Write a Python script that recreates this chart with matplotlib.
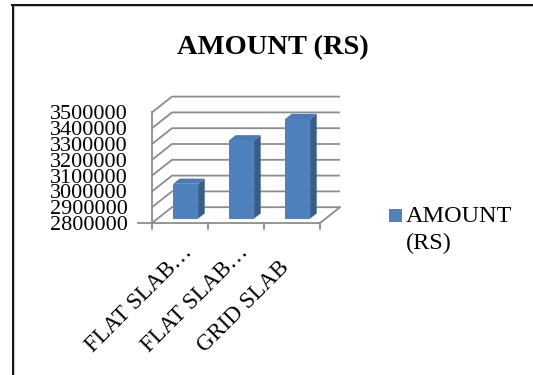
import matplotlib
matplotlib.use("Agg")
import matplotlib.pyplot as plt
import matplotlib.transforms as mtransforms
from matplotlib.patches import Polygon, Rectangle
from matplotlib.lines import Line2D

# ---- data ----
categories = ["FLAT SLAB…", "FLAT SLAB…", "GRID SLAB"]
amounts = [3020000, 3295000, 3430000]
y_ticks = [2800000, 2900000, 3000000, 3100000, 3200000, 3300000, 3400000, 3500000]
series_name = "AMOUNT (RS)"
title = "AMOUNT (RS)"

plt.rcParams['font.family'] = ['Liberation Serif', 'DejaVu Serif']

W, H = 533, 375
fig = plt.figure(figsize=(W / 100, H / 100), dpi=100)
fig.patch.set_facecolor("white")

# axes placed in pixel geometry
x0_px, y0_px = 152, 223
px_per_cat = 56
px_per_step = 15.8
ymin = y_ticks[0]
step = y_ticks[1] - y_ticks[0]
xlim = (-0.5, 3.0)
ylim = (ymin, ymin + 9 * step)
ax_w = (xlim[1] - xlim[0]) * px_per_cat
ax_h = (ylim[1] - ylim[0]) / step * px_per_step
ax = fig.add_axes([x0_px / W, (H - y0_px) / H, ax_w / W, ax_h / H])
ax.set_xlim(*xlim)
ax.set_ylim(*ylim)
for s in ax.spines.values():
    s.set_visible(False)
ax.patch.set_alpha(0)

DX = 20 / px_per_cat   # depth offset in category units
DY = step              # depth offset in value units
grid_c = "#8c8c8c"
lw = 1.3
n = len(categories)
xl, xr = -0.5, n - 0.5
ytop = y_ticks[-1]

# walls gridlines
for v in y_ticks:
    ax.plot([xl, xl + DX, xr + DX], [v, v + DY, v + DY], color=grid_c, lw=lw,
            solid_capstyle="butt", clip_on=False, zorder=1)
# left front axis
ax.plot([xl, xl], [ymin, ytop], color=grid_c, lw=lw, clip_on=False, zorder=2)
# floor front and right edges
ax.plot([xl - 0.25, xr, xr + DX], [ymin, ymin, ymin + DY], color=grid_c, lw=lw,
        clip_on=False, zorder=2)
# category tick marks
tick_len = 6 / px_per_step * step
for i in range(n + 1):
    ax.plot([xl + i, xl + i], [ymin, ymin - tick_len], color=grid_c, lw=lw,
            clip_on=False, zorder=2)

# bars (pseudo 3D)
f0, f1 = 0.28, 0.61
bw = 25 / px_per_cat
front_c, side_c, top_c = "#4f81bd", "#385d8a", "#4a7bb7"
xs = [i + f0 * DX for i in range(n)]
ax.bar(xs, [a - ymin for a in amounts], width=bw, bottom=ymin + f0 * DY,
       color=front_c, edgecolor="none", zorder=5)
for x, a in zip(xs, amounts):
    r = x + bw / 2
    l = x - bw / 2
    ddx = (f1 - f0) * DX
    ddy = (f1 - f0) * DY
    b = ymin + f0 * DY
    t = a + f0 * DY
    ax.add_patch(Polygon([(r, b), (r + ddx, b + ddy), (r + ddx, t + ddy), (r, t)],
                         closed=True, fc=side_c, ec="none", zorder=4))
    ax.add_patch(Polygon([(l, t), (r, t), (r + ddx, t + ddy), (l + ddx, t + ddy)],
                         closed=True, fc=top_c, ec="none", zorder=4))

# y tick labels
ax.set_yticks(y_ticks)
ax.set_yticklabels([str(v) for v in y_ticks], fontsize=16)
ax.tick_params(axis="y", length=0, pad=24 * 72 / 100)

# x tick labels (anchored at their start, below the axis)
ax.set_xticks(range(n))
ax.set_xticklabels(categories, fontsize=16.5, rotation=45, ha="left",
                   va="baseline", rotation_mode="anchor")
ax.tick_params(axis="x", length=0, pad=0)
for lab in ax.get_xticklabels():
    off = mtransforms.ScaledTranslation(-87 / 100, -130 / 100, fig.dpi_scale_trans)
    lab.set_transform(ax.get_xaxis_transform() + off)
    lab.set_y(0)

# title
fig.text(273 / W, 1 - 48 / H, title, ha="center", va="center",
         fontsize=20.5, fontweight="bold")

# legend (manual)
fig.patches.append(Rectangle((389 / W, 1 - 222 / H), 13 / W, 13 / H,
                             transform=fig.transFigure, fc=front_c, ec="none"))
name1, name2 = series_name.split(" ")
fig.text(406 / W, 1 - 222 / H, name1, ha="left", va="baseline", fontsize=17.5)
fig.text(406 / W, 1 - 249 / H, name2, ha="left", va="baseline", fontsize=17.5)

# outer frame
fig.add_artist(Line2D([13 / W, 1], [1 - 6 / H, 1 - 6 / H], transform=fig.transFigure,
                      color="#bbbbbb", lw=1.2))
fig.add_artist(Line2D([14 / W, 14 / W], [0, 1 - 6 / H], transform=fig.transFigure,
                      color="#bbbbbb", lw=1.2))
fig.add_artist(Line2D([12 / W, 1], [1 - 5 / H, 1 - 5 / H], transform=fig.transFigure,
                      color="#111111", lw=1.4))
fig.add_artist(Line2D([13 / W, 13 / W], [0, 1 - 5 / H], transform=fig.transFigure,
                      color="#111111", lw=1.4))

fig.savefig("out.png", dpi=100)
